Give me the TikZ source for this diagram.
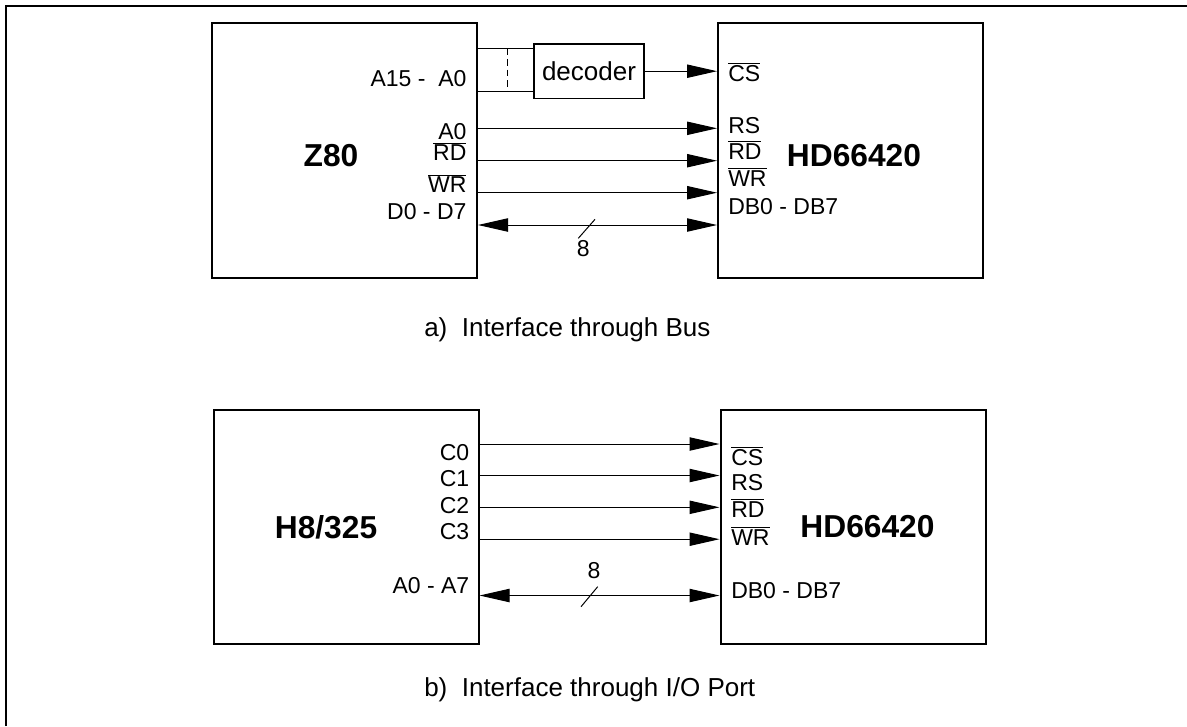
\documentclass[tikz,border=0pt]{standalone}
\usepackage{fontspec}
\setmainfont{Liberation Sans}
\usetikzlibrary{arrows.meta}

\newcommand{\ovl}[1]{\ensuremath{\overline{\mbox{#1}}}}

\begin{document}
\begin{tikzpicture}[x=0.75pt, y=-0.75pt,
  chip/.style={draw, line width=1.5pt, inner sep=0pt, minimum width=198.75pt},
  pin/.style={font=\fontsize{17.25}{20}\selectfont, inner sep=0pt},
  title/.style={font=\bfseries\fontsize{23.8}{28}\selectfont, inner sep=0pt, anchor=base},
  subcap/.style={font=\fontsize{19.5}{23}\selectfont, inner sep=0pt, anchor=base west},
  sig/.style={line width=0.75pt, -{Triangle[length=22.5pt, width=10pt]}},
  bus/.style={line width=0.75pt, {Triangle[length=22.5pt, width=10pt]}-{Triangle[length=22.5pt, width=10pt]}}]

  \useasboundingbox (0,0) rectangle (1187,726);
  % 外框
  \draw[line width=1.2pt] (5.7,726) -- (5.7,6) -- (1187,6);

  % a) 总线接口
  \node[chip, minimum height=191.25pt] (z80)  at (344.5,150.5) {};
  \node[chip, minimum height=191.25pt] (lcdA) at (850.5,150.5) {};
  \node[draw, line width=1.1pt, inner sep=0pt, minimum width=82.5pt, minimum height=40.7pt,
        font=\fontsize{19.5}{23}\selectfont] (dec) at (589,71.2) {decoder};

  % 地址线到译码器
  \coordinate (adrHi) at (z80.east |- 0,48.3);
  \coordinate (adrLo) at (z80.east |- 0,91);
  \draw[line width=0.75pt] (adrHi) -- (dec.west |- adrHi);
  \draw[line width=0.75pt] (adrLo) -- (dec.west |- adrLo);
  \draw[line width=0.75pt, dash pattern=on 5pt off 3pt] (507.5,48.3) -- (507.5,91);

  \draw[sig] (dec.east) -- (lcdA.west |- dec.east);
  \draw[sig] (z80.east |- 0,128.3) -- (lcdA.west |- 0,128.3);
  \draw[sig] (z80.east |- 0,160.7) -- (lcdA.west |- 0,160.7);
  \draw[sig] (z80.east |- 0,192.7) -- (lcdA.west |- 0,192.7);
  \draw[bus] (z80.east |- 0,225) -- (lcdA.west |- 0,225);
  \draw[line width=0.75pt] (595,219.3) -- (578.3,238.3);
  \node[pin, anchor=base] (widthA) at (583.3,256.7) {8};

  \node[title] (z80t)  at (331,166.7) {Z80};
  \node[title] (lcdAt) at (854,166.7) {HD66420};

  \node[pin, anchor=base east] (zadr) at (466.7,86.7)  {A15 -\ \ A0};
  \node[pin, anchor=base east] (za0)  at (466.7,139)   {A0};
  \node[pin, anchor=base east] (zrd)  at (466.7,160.7) {\ovl{RD}};
  \node[pin, anchor=base east] (zwr)  at (466.7,192.7) {\ovl{WR}};
  \node[pin, anchor=base east] (zdat) at (466.7,219)   {D0 - D7};

  \node[pin, anchor=base west] (acs) at (728,81)    {\ovl{CS}};
  \node[pin, anchor=base west] (ars) at (728,133.3) {RS};
  \node[pin, anchor=base west] (ard) at (728,159)   {\ovl{RD}};
  \node[pin, anchor=base west] (awr) at (728,186)   {\ovl{WR}};
  \node[pin, anchor=base west] (adb) at (728,214)   {DB0 - DB7};

  \node[subcap] (capA) at (424,336) {a)\ \ Interface through Bus};

  % b) I/O 口接口
  \node[chip, minimum height=175.5pt] (h8)   at (346,527) {};
  \node[chip, minimum height=175.5pt] (lcdB) at (853,527) {};

  \draw[sig] (h8.east |- 0,444)   -- (lcdB.west |- 0,444);
  \draw[sig] (h8.east |- 0,475.5) -- (lcdB.west |- 0,475.5);
  \draw[sig] (h8.east |- 0,507.3) -- (lcdB.west |- 0,507.3);
  \draw[sig] (h8.east |- 0,539.2) -- (lcdB.west |- 0,539.2);
  \draw[bus] (h8.east |- 0,595.5) -- (lcdB.west |- 0,595.5);
  \draw[line width=0.75pt] (597.7,586.7) -- (581,606.7);
  \node[pin, anchor=base] (widthB) at (594,578.5) {8};

  \node[title] (h8t)   at (326,538.3)   {H8/325};
  \node[title] (lcdBt) at (867.5,537.3) {HD66420};

  \node[pin, anchor=base east] (hc0)  at (469.5,460)   {C0};
  \node[pin, anchor=base east] (hc1)  at (469.5,486.5) {C1};
  \node[pin, anchor=base east] (hc2)  at (469.5,513.3) {C2};
  \node[pin, anchor=base east] (hc3)  at (469.5,539)   {C3};
  \node[pin, anchor=base east] (hdat) at (469.5,593.3) {A0 - A7};

  \node[pin, anchor=base west] (bcs) at (731,465)   {\ovl{CS}};
  \node[pin, anchor=base west] (brs) at (731,490.7) {RS};
  \node[pin, anchor=base west] (brd) at (731,517)   {\ovl{RD}};
  \node[pin, anchor=base west] (bwr) at (731,545)   {\ovl{WR}};
  \node[pin, anchor=base west] (bdb) at (731,598)   {DB0 - DB7};

  \node[subcap] (capB) at (424,696) {b)\ \ Interface through I/O Port};
\end{tikzpicture}
\end{document}
